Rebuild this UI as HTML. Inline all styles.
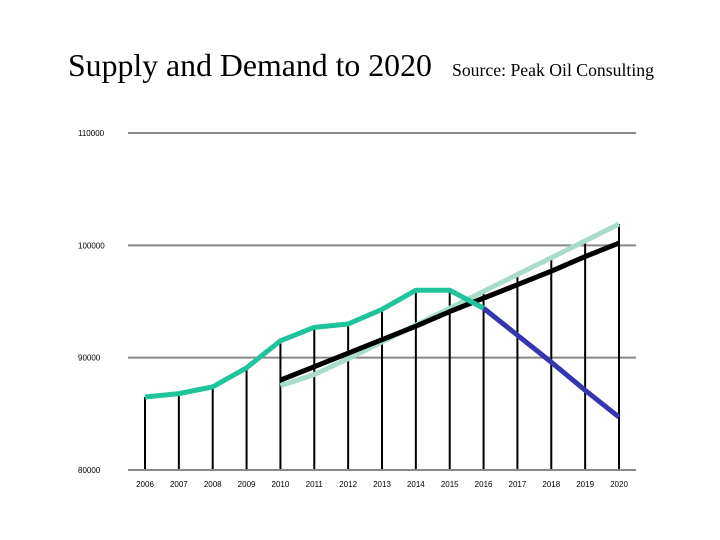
<!DOCTYPE html>
<html><head><meta charset="utf-8"><style>
body{margin:0;background:#fff;width:720px;height:540px;overflow:hidden}
svg{display:block}
</style></head><body>
<svg id="chart" width="720" height="540" xmlns="http://www.w3.org/2000/svg">
<text x="68" y="76" font-family="Liberation Serif, serif" font-size="31.8" fill="#000">Supply and Demand to 2020</text>
<text x="452" y="76" font-family="Liberation Serif, serif" font-size="17.7" fill="#000">Source: Peak Oil Consulting</text>
<g id="grid"></g><g id="drops"></g><g id="series"></g><g id="labels"></g>
</svg>
<script>
const years=[2006,2007,2008,2009,2010,2011,2012,2013,2014,2015,2016,2017,2018,2019,2020];
const yTicks=[80000,90000,100000,110000];
const supplyHist=[86500,86800,87400,89100,91500,92700,93000,94300,96000,96000,94400,null,null,null,null];
const supplyForecast=[null,null,null,null,null,null,null,null,null,null,94400,92000,89600,87100,84700];
const demandLow=[null,null,null,null,88000,89200,90400,91600,92800,94100,95300,96500,97700,99000,100200];
const demandHigh=[null,null,null,null,87500,88500,89900,91400,92900,94400,95900,97400,98900,100400,101900];
const NS='http://www.w3.org/2000/svg';
function X(i){return 145+i*(619-145)/(years.length-1);}
function Y(v){return 470-(v-80000)*(470-133)/30000;}
function mk(t,a,p){const e=document.createElementNS(NS,t);for(const k in a)e.setAttribute(k,a[k]);p.appendChild(e);return e;}
const grid=document.getElementById('grid'),drops=document.getElementById('drops'),ser=document.getElementById('series'),lab=document.getElementById('labels');
yTicks.forEach(v=>{
 const l=mk('line',{x1:128,x2:636,y1:Y(v),y2:Y(v),stroke:'#888','stroke-width':2},grid);
 
 
 const t=mk('text',{x:78,y:Y(v)+3,'font-family':'Liberation Sans, sans-serif','font-size':8,fill:'#000'},lab);
 t.textContent=v;
 
 
});
years.forEach((yr,i)=>{
 const vals=[supplyHist[i],supplyForecast[i],demandLow[i],demandHigh[i]].filter(v=>v!=null);
 const top=Math.max(...vals);
 const l=mk('line',{x1:X(i),x2:X(i),y1:Y(top),y2:469,stroke:'#000','stroke-width':2},drops);
 
 
 const t=mk('text',{x:X(i),y:487,'text-anchor':'middle','font-family':'Liberation Sans, sans-serif','font-size':8,fill:'#000'},lab);
 t.textContent=yr;
 
 
});
function line(arr,color,name){
 const pts=[];arr.forEach((v,i)=>{if(v!=null)pts.push(X(i)+','+Y(v));});
 const p=mk('polyline',{points:pts.join(' '),fill:'none',stroke:color,'stroke-width':5,'stroke-linejoin':'round'},ser);
 
 
}
line(demandHigh,'#a8dcc8','demand-high-line');
line(demandLow,'#000','demand-line');
line(supplyForecast,'#3535b0','supply-forecast-line');
line(supplyHist,'#1fc49a','supply-history-line');
</script>
</body></html>
